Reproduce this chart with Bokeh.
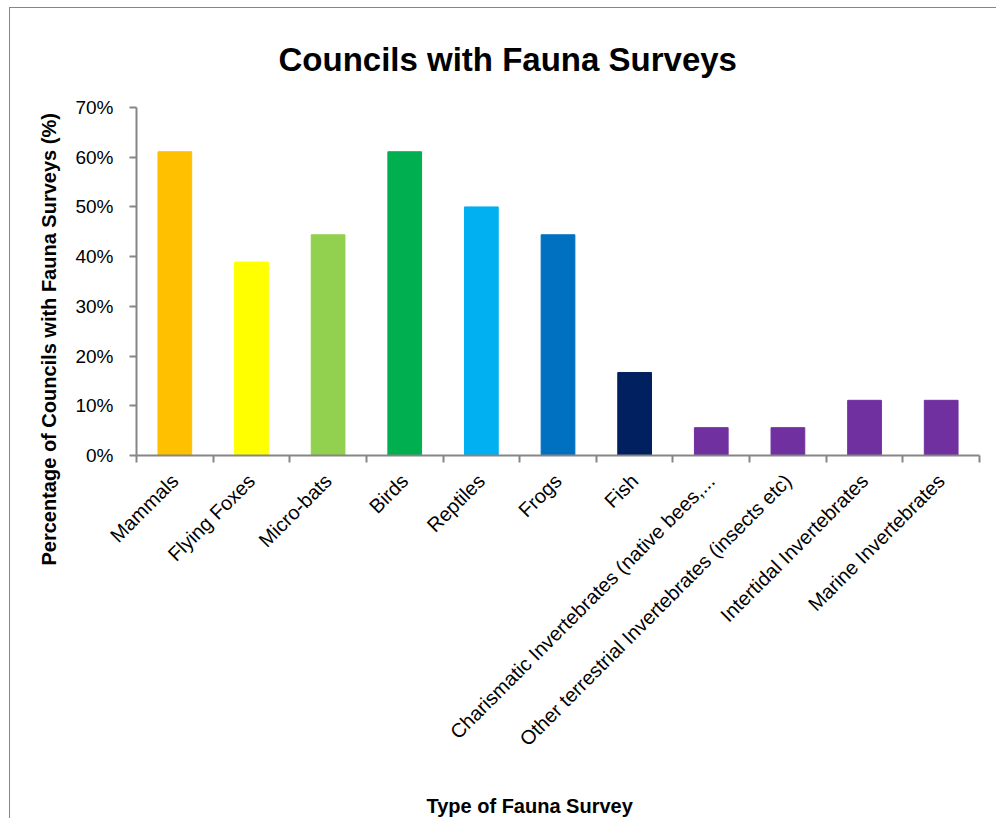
import numpy as np
from bokeh.plotting import figure
from bokeh.models import ColumnDataSource, FixedTicker, NumeralTickFormatter, Range1d, Title, LinearAxis
from bokeh.embed import file_html
from bokeh.resources import INLINE

categories = ["Mammals", "Flying Foxes", "Micro-bats", "Birds", "Reptiles", "Frogs", "Fish",
              "Charismatic Invertebrates (native bees,...", "Other terrestrial Invertebrates (insects etc)",
              "Intertidal Invertebrates", "Marine Invertebrates"]
values = [0.611, 0.389, 0.444, 0.611, 0.500, 0.444, 0.167, 0.056, 0.056, 0.111, 0.111]
colors = ["#FFC000", "#FFFF00", "#92D050", "#00B050", "#00B0F0", "#0070C0", "#002060",
          "#7030A0", "#7030A0", "#7030A0", "#7030A0"]
y_ticks = [0.0, 0.1, 0.2, 0.3, 0.4, 0.5, 0.6, 0.7]
title_text = "Councils with Fauna Surveys"
x_title = "Type of Fauna Survey"
y_title = "Percentage of Councils with Fauna Surveys (%)"

n = len(categories)
xpos = np.arange(n) + 0.5
src = ColumnDataSource(dict(x=xpos, top=values, color=colors, name=categories))

AXC = "#868686"
FONT = "Liberation Sans"

p = figure(width=987, height=811, output_backend="svg", toolbar_location=None,
           x_range=Range1d(0, n), y_range=Range1d(0, 0.7),
           min_border_left=126, min_border_right=18, min_border_top=99, min_border_bottom=40)
p.styles = {"border-left": f"1px solid {AXC}", "border-top": f"1px solid {AXC}",
            "margin-left": "9px", "margin-top": "7px"}

p.vbar(x="x", top="top", width=0.44, color="color", source=src)

p.add_layout(Title(text=title_text, align="left", text_font=FONT,
                   text_font_size="33px", text_font_style="bold", text_color="#000000",
                   standoff=60, offset=142), "above")

p.xgrid.visible = False
p.ygrid.visible = False
p.outline_line_color = None
p.background_fill_color = "white"
p.border_fill_color = "white"

# x axis
xa = p.xaxis[0]
xa.ticker = FixedTicker(ticks=list(xpos), minor_ticks=list(range(n + 1)))
xa.major_label_overrides = {float(x): c for x, c in zip(xpos, categories)}
xa.major_label_orientation = np.pi / 4
xa.major_tick_line_color = None
xa.minor_tick_line_color = AXC
xa.minor_tick_line_width = 2
xa.minor_tick_out = 7
xa.minor_tick_in = 0
xa.axis_line_color = AXC
xa.axis_line_width = 2
xa.major_label_text_font = FONT
xa.major_label_text_font_size = "20px"
xa.major_label_text_color = "#000000"
xa.major_label_standoff = 15

# x-axis title, set slightly left of the frame centre as in the original
x_title_pos = 5.13
xt = LinearAxis(ticker=FixedTicker(ticks=[x_title_pos]),
                major_label_overrides={x_title_pos: x_title},
                axis_line_color=None, major_tick_line_color=None, minor_tick_line_color=None,
                major_tick_out=0, major_tick_in=0, major_label_standoff=34,
                major_label_text_font=FONT, major_label_text_font_size="20px",
                major_label_text_font_style="bold", major_label_text_color="#000000")
p.add_layout(xt, "below")

# y axis
ya = p.yaxis[0]
ya.ticker = FixedTicker(ticks=y_ticks)
ya.formatter = NumeralTickFormatter(format="0%")
ya.major_tick_line_color = AXC
ya.major_tick_line_width = 2
ya.major_tick_out = 7
ya.major_tick_in = 0
ya.minor_tick_line_color = None
ya.axis_line_color = AXC
ya.axis_line_width = 2
ya.major_label_text_font = FONT
ya.major_label_text_font_size = "19px"
ya.major_label_text_color = "#000000"
ya.major_label_standoff = 16

p.add_layout(Title(text=y_title, align="left", offset=-110, standoff=26,
                   text_font=FONT, text_font_size="20px", text_font_style="bold",
                   text_color="#000000"), "left")

open("out.html", "w").write(file_html(p, INLINE))
